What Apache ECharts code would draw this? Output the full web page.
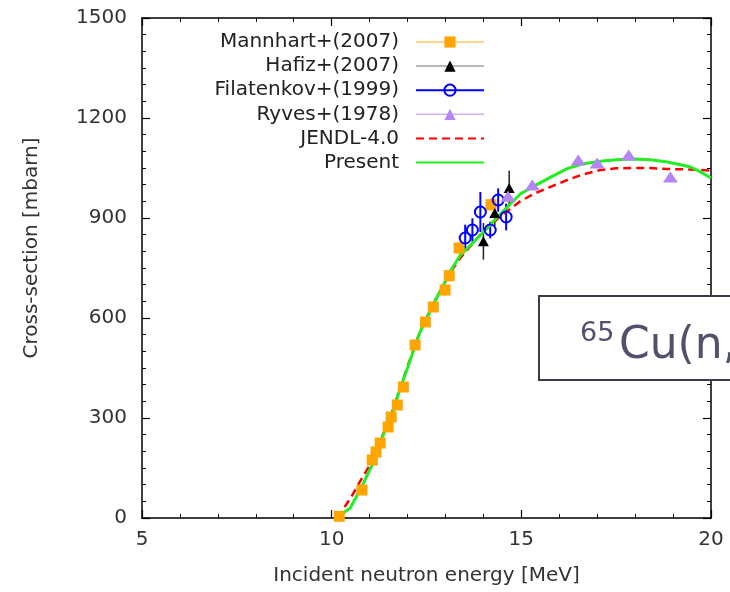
<!DOCTYPE html>
<html><head><meta charset="utf-8">
<script src="https://cdn.jsdelivr.net/npm/echarts@6/dist/echarts.min.js"></script>
<style>html,body{margin:0;padding:0;background:#fff}#c{width:730px;height:592px}</style>
</head><body><div id="c"></div>
<script>
// ---- data ----
const mannhartE   = [10.20, 10.80, 11.07, 11.17, 11.28, 11.49, 11.57, 11.73, 11.89, 12.20, 12.47, 12.68, 12.99, 13.10, 13.36, 14.20];
const mannhartXS  = [5, 84, 174, 198, 225, 273, 303, 339, 393, 519, 588, 633, 684, 727, 810, 940];
const mannhartErr = [4, 8, 10, 10, 10, 12, 12, 14, 14, 15, 15, 15, 18, 18, 20, 20];

const hafizE   = [14.00, 14.30, 14.68];
const hafizXS  = [830, 915, 990];
const hafizErr = [55, 40, 52];

const filatE   = [13.52, 13.71, 13.92, 14.18, 14.39, 14.60];
const filatXS  = [840, 864, 918, 864, 954, 903];
const filatErr = [40, 35, 60, 25, 35, 40];

const ryvesE  = [14.65, 15.29, 16.50, 17.00, 17.83, 18.93];
const ryvesXS = [965, 999, 1074, 1065, 1089, 1023];

const jendlE  = [10.15, 10.5, 10.8, 11.07, 11.3, 11.6, 12.0, 12.33, 12.78, 13.18, 13.39, 13.92, 14.45, 14.97, 15.32, 15.8, 16.21, 16.6, 17.08, 17.5, 17.95, 18.4, 18.85, 19.3, 19.72, 20.0];
const jendlXS = [0, 60, 120, 170, 235, 320, 455, 560, 665, 745, 780, 850, 905, 950, 972, 995, 1014, 1030, 1044, 1049, 1050, 1050, 1047, 1046, 1044, 1042];

const presentE  = [10.12, 10.49, 10.8, 11.07, 11.3, 11.6, 11.81, 12.0, 12.33, 12.78, 13.18, 13.39, 13.92, 14.45, 14.97, 15.32, 15.8, 16.21, 16.6, 17.08, 17.5, 17.95, 18.4, 18.85, 19.2, 19.46, 19.7, 20.0];
const presentXS = [0, 30, 95, 160, 232, 315, 390, 450, 558, 663, 750, 788, 848, 912, 972, 995, 1024, 1048, 1062, 1070, 1075, 1077, 1075, 1068, 1060, 1053, 1040, 1020];

const xTicks = {min: 5, max: 20, interval: 5};
const yTicks = {min: 0, max: 1500, interval: 300};

const seriesNames = ['Mannhart+(2007)', 'Hafiz+(2007)', 'Filatenkov+(1999)', 'Ryves+(1978)', 'JENDL-4.0', 'Present'];
const boxLabelSup = '65';
const boxLabelMain = 'Cu(n,';

// ---- helpers ----
const pairs = (xs, ys) => xs.map((x, i) => [x, ys[i]]);
const triples = (xs, ys, es) => xs.map((x, i) => [x, ys[i], es[i]]);
const FONT = 'DejaVu Sans';

function errorBars(name, data, color, width) {
  return {
    type: 'custom', name: name + ' err', data: data, silent: true, clip: true,
    encode: {x: 0, y: 1},
    renderItem: function (params, api) {
      const x = api.value(0), y = api.value(1), e = api.value(2);
      const p1 = api.coord([x, y - e]);
      const p2 = api.coord([x, y + e]);
      return {type: 'line', shape: {x1: p1[0], y1: p1[1], x2: p2[0], y2: p2[1]},
              style: {stroke: color, lineWidth: width}};
    }
  };
}
function pointSeries(name, data, symbol, size, itemStyle) {
  return {
    type: 'line', name: name, data: data, symbol: symbol, symbolSize: size,
    showSymbol: true, showAllSymbol: true, clip: true,
    lineStyle: {opacity: 0, width: 1}, itemStyle: itemStyle
  };
}

const axisCommon = {
  axisLine: {show: true, onZero: false, lineStyle: {color: '#000', width: 1.5}},
  axisTick: {show: true, inside: true, length: 8, lineStyle: {color: '#000', width: 1.2}},
  minorTick: {show: true, length: 4, lineStyle: {color: '#000', width: 1}},
  splitLine: {show: false}
};
const plainNum = v => String(v);

const chart = echarts.init(document.getElementById('c'), null, {renderer: 'canvas'});
chart.setOption({
  animation: false,
  backgroundColor: '#fff',
  grid: {left: 142, right: 19, top: 18, bottom: 74, containLabel: false},
  xAxis: [
    Object.assign({}, axisCommon, {
      type: 'value', min: xTicks.min, max: xTicks.max, interval: xTicks.interval, position: 'bottom',
      minorTick: Object.assign({}, axisCommon.minorTick, {splitNumber: 5}),
      axisLabel: {margin: 12, fontFamily: FONT, fontSize: 20, color: '#333', formatter: plainNum},
      name: 'Incident neutron energy [MeV]', nameLocation: 'middle', nameGap: 48,
      nameTextStyle: {fontFamily: FONT, fontSize: 20, color: '#333'}
    }),
    Object.assign({}, axisCommon, {
      type: 'value', min: xTicks.min, max: xTicks.max, interval: xTicks.interval, position: 'top',
      minorTick: Object.assign({}, axisCommon.minorTick, {splitNumber: 5}),
      axisLabel: {show: false}
    })
  ],
  yAxis: [
    Object.assign({}, axisCommon, {
      type: 'value', min: yTicks.min, max: yTicks.max, interval: yTicks.interval, position: 'left',
      minorTick: Object.assign({}, axisCommon.minorTick, {splitNumber: 6}),
      axisLabel: {margin: 15, fontFamily: FONT, fontSize: 20, color: '#333', formatter: plainNum},
      name: 'Cross-section [mbarn]', nameLocation: 'middle', nameGap: 100,
      nameTextStyle: {fontFamily: FONT, fontSize: 20, color: '#333', padding: [0, 0, 0, 40]}
    }),
    Object.assign({}, axisCommon, {
      type: 'value', min: yTicks.min, max: yTicks.max, interval: yTicks.interval, position: 'right',
      minorTick: Object.assign({}, axisCommon.minorTick, {splitNumber: 6}),
      axisLabel: {show: false}
    })
  ],
  legend: {
    orient: 'vertical', align: 'right', right: 245, top: 32, padding: 0,
    itemWidth: 68, itemHeight: 14, itemGap: 4.1,
    textStyle: {fontFamily: FONT, fontSize: 20, color: '#222', padding: [0, 12, 0, 0]},
    data: [
      {name: seriesNames[0], itemStyle: {color: '#ffa500'}, lineStyle: {color: '#ffc86a', width: 1.5, opacity: 1}},
      {name: seriesNames[1], itemStyle: {color: '#000'}, lineStyle: {color: '#a0a0a0', width: 1.5, opacity: 1}},
      {name: seriesNames[2], itemStyle: {color: 'rgba(255,255,255,0)', borderColor: '#0000ff', borderWidth: 2}, lineStyle: {color: '#0000ff', width: 2, opacity: 1}},
      {name: seriesNames[3], itemStyle: {color: '#b585f5'}, lineStyle: {color: '#cdb0f8', width: 1.5, opacity: 1}},
      {name: seriesNames[4], itemStyle: {opacity: 0}},
      {name: seriesNames[5], itemStyle: {opacity: 0}}
    ]
  },
  series: [
    errorBars(seriesNames[0], triples(mannhartE, mannhartXS, mannhartErr), '#ffb84a', 1.5),
    pointSeries(seriesNames[0], pairs(mannhartE, mannhartXS), 'rect', 11, {color: '#ffa500'}),
    errorBars(seriesNames[1], triples(hafizE, hafizXS, hafizErr), '#222', 1.5),
    pointSeries(seriesNames[1], pairs(hafizE, hafizXS), 'triangle', [11, 10], {color: '#000'}),
    errorBars(seriesNames[2], triples(filatE, filatXS, filatErr), '#0000ff', 2),
    pointSeries(seriesNames[2], pairs(filatE, filatXS), 'circle', 11, {color: 'rgba(255,255,255,0)', borderColor: '#0000ff', borderWidth: 2}),
    pointSeries(seriesNames[3], pairs(ryvesE, ryvesXS), 'triangle', [15, 11], {color: '#b585f5'}),
    {
      type: 'line', name: seriesNames[4], data: pairs(jendlE, jendlXS), symbol: 'none', smooth: false, clip: true,
      lineStyle: {color: '#ff0000', width: 2.5, type: [8, 5]}, itemStyle: {color: '#ff0000'}
    },
    {
      type: 'line', name: seriesNames[5], data: pairs(presentE, presentXS), symbol: 'none', smooth: false, clip: true,
      lineStyle: {color: '#22ee22', width: 3}, itemStyle: {color: '#22ee22'}
    }
  ],
  graphic: [
    {type: 'rect', z: 100, shape: {x: 539, y: 296, width: 260, height: 84},
     style: {fill: '#fff', stroke: '#3a3a48', lineWidth: 2}},
    {type: 'text', z: 101, x: 580, y: 334,
     style: {text: boxLabelSup, fontFamily: FONT, fontSize: 27, fill: '#51516a', align: 'left', verticalAlign: 'middle'}},
    {type: 'text', z: 101, x: 619, y: 347,
     style: {text: boxLabelMain, fontFamily: FONT, fontSize: 44, fill: '#51516a', align: 'left', verticalAlign: 'middle'}}
  ]
});
</script>
</body></html>
